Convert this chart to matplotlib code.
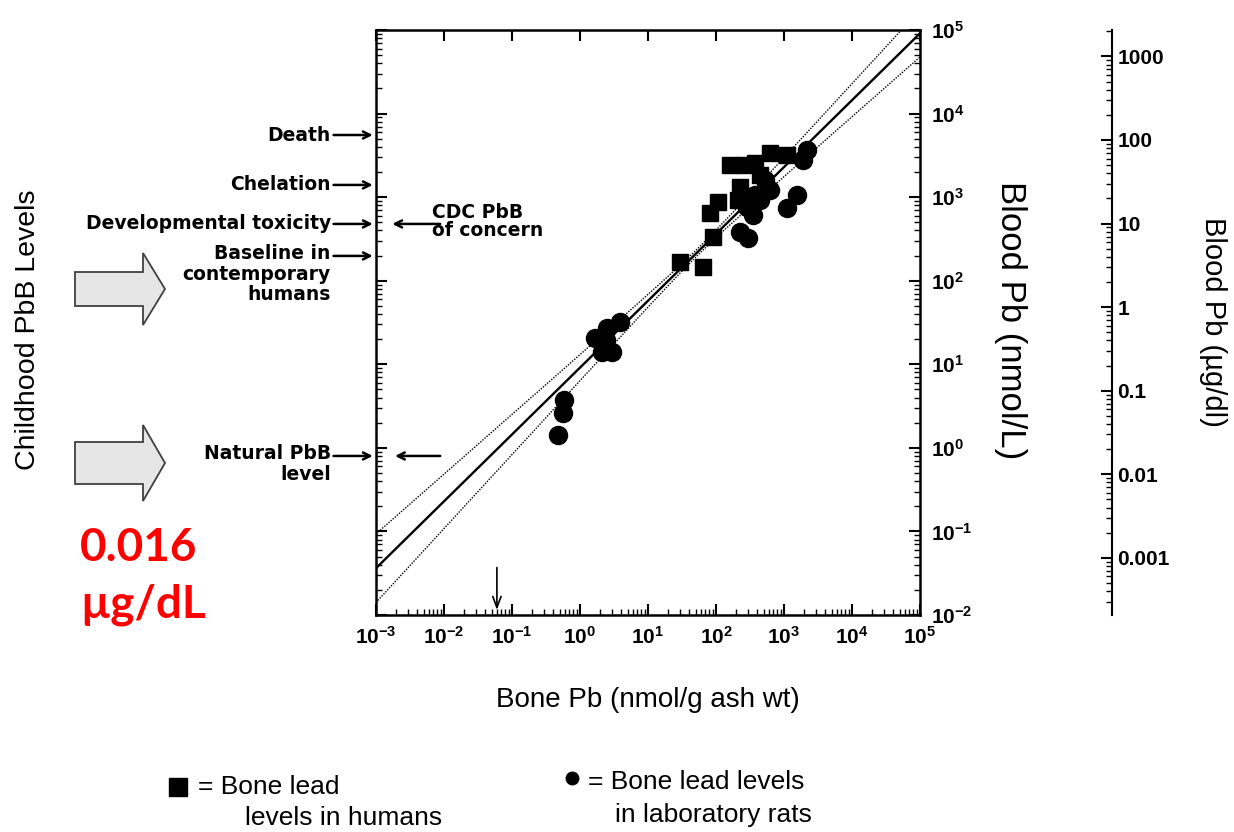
import numpy as np
import matplotlib
matplotlib.use('Agg')
import matplotlib.pyplot as plt
from matplotlib.patches import Polygon
from matplotlib.lines import Line2D
from matplotlib.ticker import LogLocator, FuncFormatter, NullFormatter

plt.rcParams['mathtext.fontset'] = 'custom'
plt.rcParams['mathtext.rm'] = 'Liberation Sans'
plt.rcParams['mathtext.bf'] = 'Liberation Sans:bold'

# bone lead in humans (squares), nmol/g ash vs nmol/L
human_bone = [29.6, 64, 90, 82, 107, 161, 226, 267, 375, 622, 1107, 444, 211]
human_blood = [168, 146, 334, 647, 877, 2430, 1325, 2430, 2565, 3380, 3200, 1845, 927]
# bone lead in lab rats (circles)
rat_bone = [0.474, 0.562, 0.582, 1.66, 2.49, 3.87, 2.11, 2.96, 2.41, 226, 296, 286,
            350, 444, 1107, 1552, 622, 1901, 2178, 525, 375]
rat_blood = [1.43, 2.62, 3.75, 20.7, 27.2, 32.2, 14.1, 14.1, 19.6, 384, 325, 764,
             612, 927, 743, 1062, 1218, 2786, 3670, 1607, 1062]

fit_slope = 0.80
fit_icpt = 0.96
band_a = 0.04
band_b = 0.086
band_c = 1.75

# blood lead levels marked on the left axis (nmol/L)
level_names = ['Death', 'Chelation', 'Developmental toxicity',
               'Baseline in\ncontemporary\nhumans', 'Natural PbB\nlevel']
level_vals = [5540, 1400, 478, 198, 0.80]
cdc_level = 478
natural_level = 0.80
natural_bone = 0.060

nmol_per_ugdl = 48.3

W, H = 1234, 832
fig = plt.figure(figsize=(W / 100, H / 100), dpi=100)
ax = fig.add_axes([376 / W, 1 - 615 / H, 544 / W, 585 / H])
ax3 = ax.twinx()

ax.set_xscale('log')
ax.set_yscale('log')
ax.set_xlim(1e-3, 1e5)
ax.set_ylim(1e-2, 1e5)

# fit lines
u = np.linspace(-3, 5, 300)
fit = fit_icpt + fit_slope * u
hw = np.sqrt(band_a ** 2 + band_b ** 2 * (u - band_c) ** 2)
ax.plot(10 ** u, 10 ** fit, color='black', lw=1.7)
ax.plot(10 ** u, 10 ** (fit + hw), color='black', lw=1.0, ls=(0, (1, 1)))
ax.plot(10 ** u, 10 ** (fit - hw), color='black', lw=1.0, ls=(0, (1, 1)))

ax.plot(human_bone, human_blood, 's', color='black', ms=11, ls='none')
ax.plot(rat_bone, rat_blood, 'o', color='black', ms=13, ls='none')

for sp in ax.spines.values():
    sp.set_linewidth(1.8)

ax.xaxis.set_major_locator(LogLocator(base=10, numticks=20))
ax.xaxis.set_minor_locator(LogLocator(base=10, subs=np.arange(2, 10), numticks=20))
ax.yaxis.set_major_locator(LogLocator(base=10, numticks=20))
ax.yaxis.set_minor_locator(LogLocator(base=10, subs=np.arange(2, 10), numticks=20))
pow_fmt = FuncFormatter(lambda v, p: r'$\mathbf{10^{%d}}$' % round(np.log10(v)))
ax.xaxis.set_major_formatter(pow_fmt)
ax.yaxis.set_major_formatter(pow_fmt)
ax.xaxis.set_minor_formatter(NullFormatter())
ax.yaxis.set_minor_formatter(NullFormatter())
ax.tick_params(which='both', direction='in', top=True, right=True, left=True,
               labelleft=False, labelright=True)
ax.tick_params(which='major', length=8, width=1.5, labelsize=15, pad=8)
ax.tick_params(which='minor', length=4, width=1.0)
ax.tick_params(axis='x', which='minor', top=False)

# third axis in ug/dl
ax3.set_yscale('log')
ax3.set_ylim(1e-2 / nmol_per_ugdl, 1e5 / nmol_per_ugdl)
for s in ['left', 'top', 'bottom']:
    ax3.spines[s].set_visible(False)
ax3.spines['right'].set_position(('axes', (1112 - 376) / 544))
ax3.spines['right'].set_linewidth(1.5)
ax3.yaxis.set_major_locator(LogLocator(base=10, numticks=20))
ax3.yaxis.set_minor_locator(LogLocator(base=10, subs=np.arange(2, 10), numticks=20))
ax3.yaxis.set_major_formatter(FuncFormatter(lambda v, p: '%g' % v))
ax3.yaxis.set_minor_formatter(NullFormatter())
ax3.tick_params(which='both', direction='in', left=False, right=True,
                labelleft=False, labelright=True)
ax3.tick_params(which='major', length=8, width=1.5, labelsize=15, pad=4)
ax3.tick_params(which='minor', length=4, width=1.0)
for t in ax3.get_yticklabels():
    t.set_fontweight('bold')
    t.set_family('Liberation Sans')

# level annotations on left
ann_font = dict(family='DejaVu Sans', weight='bold', size=13.5)
arr = dict(arrowstyle='->,head_length=0.5,head_width=0.25', lw=1.8, color='black',
           shrinkA=0, shrinkB=0)
for name, val in zip(level_names, level_vals):
    ax.annotate('', xy=(-0.006, val), xytext=(-0.078, val),
                xycoords=('axes fraction', 'data'), arrowprops=arr,
                annotation_clip=False)
    if '\n' in name:
        ax.annotate(name, xy=(-0.083, val), xycoords=('axes fraction', 'data'),
                    xytext=(0, 8.5), textcoords='offset points', ha='right', va='top',
                    multialignment='right', linespacing=1.1, annotation_clip=False,
                    **ann_font)
    else:
        ax.annotate(name, xy=(-0.083, val), xycoords=('axes fraction', 'data'),
                    ha='right', va='center', annotation_clip=False, **ann_font)

ax.annotate('', xy=(0.030, cdc_level), xytext=(0.118, cdc_level),
            xycoords=('axes fraction', 'data'), arrowprops=arr)
ax.annotate('CDC PbB\nof concern', xy=(0.103, cdc_level),
            xycoords=('axes fraction', 'data'), xytext=(0, 15),
            textcoords='offset points', ha='left', va='top', linespacing=0.95,
            **ann_font)
ax.annotate('', xy=(0.035, natural_level), xytext=(0.118, natural_level),
            xycoords=('axes fraction', 'data'), arrowprops=arr)
ax.annotate('', xy=(natural_bone, 0.0115), xytext=(natural_bone, 0.037),
            xycoords='data',
            arrowprops=dict(arrowstyle='->,head_length=0.8,head_width=0.3', lw=1.2,
                            color='black', shrinkA=0, shrinkB=0))

lab_font = ['Liberation Sans Narrow', 'Liberation Sans']
fig.text(648 / W, 1 - 700 / H, 'Bone Pb (nmol/g ash wt)', ha='center', va='center',
         size=20, family=lab_font)
fig.text(1010 / W, 1 - 320 / H, 'Blood Pb (nmol/L)', ha='center', va='center',
         rotation=270, size=25, family=lab_font)
fig.text(1213 / W, 1 - 322 / H, 'Blood Pb (\u00b5g/dl)', ha='center', va='center',
         rotation=270, size=21, family=lab_font)
fig.text(28 / W, 1 - 330 / H, 'Childhood PbB Levels', ha='center', va='center',
         rotation=90, size=20.5, family=lab_font)


def block_arrow(x0, xh, xt, yc, sh, hh):
    pts = [(x0, yc - sh), (xh, yc - sh), (xh, yc - hh), (xt, yc), (xh, yc + hh),
           (xh, yc + sh), (x0, yc + sh)]
    pts = [(px / W, 1 - py / H) for px, py in pts]
    fig.patches.append(Polygon(pts, closed=True, facecolor='#e6e6e6',
                               edgecolor='#404040', lw=1.3, transform=fig.transFigure))


block_arrow(75, 143, 165, 289, 17, 36)
block_arrow(75, 143, 165, 463, 21, 38)

fig.text(80 / W, 1 - 548 / H, '0.016', ha='left', va='center', color='red',
         weight='bold', size=33, family='Lato')
fig.text(80 / W, 1 - 605 / H, '\u00b5g/dL', ha='left', va='center', color='red',
         weight='bold', size=33, family='Lato')

# legend below
fig.add_artist(Line2D([178 / W], [1 - 787 / H], marker='s', ms=13, color='black',
                      transform=fig.transFigure))
fig.text(198 / W, 1 - 787 / H, '= Bone lead', ha='left', va='center', size=19,
         family=lab_font)
fig.text(245 / W, 1 - 818 / H, 'levels in humans', ha='left', va='center', size=19,
         family=lab_font)
fig.add_artist(Line2D([572 / W], [1 - 778 / H], marker='o', ms=9, color='black',
                      transform=fig.transFigure))
fig.text(588 / W, 1 - 782 / H, '= Bone lead levels', ha='left', va='center', size=19,
         family=lab_font)
fig.text(615 / W, 1 - 815 / H, 'in laboratory rats', ha='left', va='center', size=19,
         family=lab_font)

fig.savefig('out.png', dpi=100)
